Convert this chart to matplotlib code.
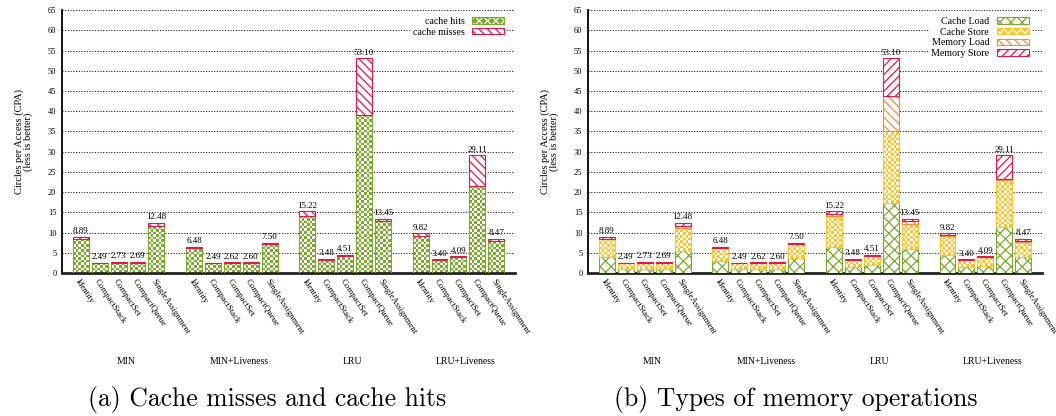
import numpy as np
import matplotlib
matplotlib.use("Agg")
import matplotlib.pyplot as plt
from matplotlib.colors import ListedColormap
from matplotlib.patches import Patch
from matplotlib.legend_handler import HandlerTuple
from matplotlib.transforms import blended_transform_factory

plt.rcParams['font.family'] = 'Liberation Serif'
plt.rcParams['hatch.linewidth'] = 0.9

# ---- data ----
groups = ['MIN', 'MIN+Liveness', 'LRU', 'LRU+Liveness']
categories = ['Identity', 'CompactStack', 'CompactSet', 'CompactQueue', 'SingleAssignment']

totals = [8.89, 2.49, 2.73, 2.69, 12.48,
          6.48, 2.49, 2.62, 2.60, 7.50,
          15.22, 3.48, 4.51, 53.10, 13.45,
          9.82, 3.40, 4.09, 29.11, 8.47]

# (a) cache hits / misses
cache_hits = [8.50, 2.35, 2.40, 2.50, 11.60,
              6.20, 2.35, 2.45, 2.42, 7.10,
              14.15, 3.20, 4.20, 39.10, 12.75,
              9.05, 3.20, 3.85, 21.50, 8.00]
cache_misses = [0.39, 0.14, 0.33, 0.19, 0.88,
                0.28, 0.14, 0.17, 0.18, 0.40,
                1.07, 0.28, 0.31, 14.00, 0.70,
                0.77, 0.20, 0.24, 7.61, 0.47]

# (b) memory operation types
cache_load = [4.00, 1.10, 1.10, 1.10, 5.40,
              2.95, 1.10, 1.10, 1.10, 3.60,
              6.30, 1.50, 2.00, 17.40, 5.90,
              4.40, 1.60, 1.80, 11.30, 3.90]
cache_store = [4.40, 1.25, 1.30, 1.40, 5.80,
               3.25, 1.25, 1.35, 1.32, 3.50,
               7.80, 1.70, 2.20, 17.60, 6.20,
               4.70, 1.60, 2.05, 11.70, 3.80]
memory_load = [0.10, 0.00, 0.00, 0.00, 0.40,
               0.00, 0.00, 0.00, 0.00, 0.00,
               0.40, 0.00, 0.00, 8.80, 0.65,
               0.25, 0.00, 0.00, 0.20, 0.30]
memory_store = [0.39, 0.14, 0.33, 0.19, 0.88,
                0.28, 0.14, 0.17, 0.18, 0.40,
                0.72, 0.28, 0.31, 9.30, 0.70,
                0.47, 0.20, 0.24, 5.91, 0.47]

GREEN = '#7aab2c'
RED = '#e2174c'
YELLOW = '#fdc42c'
ORANGE = '#f28d3c'

BAR_W = 0.84
CELL = (0.14, 0.64)

# bar x positions: 5 bars per group, one empty slot between groups
xpos = np.array([g * 6 + i + 1 for g in range(len(groups)) for i in range(len(categories))], dtype=float)


def checker_bars(ax, x, h, bottom, color):
    """Stacked bars filled with a checkerboard pattern (gnuplot style)."""
    bars = ax.bar(x, h, BAR_W, bottom=bottom, facecolor='none',
                  edgecolor=color, linewidth=0.8, zorder=3)
    cmap = ListedColormap(['white', color])
    for b in bars:
        x0, y0, w, hh = b.get_x(), b.get_y(), b.get_width(), b.get_height()
        if hh <= 0:
            b.set_visible(False)
            continue
        nx = int(np.ceil(w / CELL[0]))
        ny = int(np.ceil(hh / CELL[1]))
        pat = np.add.outer(np.arange(ny), np.arange(nx)) % 2
        im = ax.imshow(pat, cmap=cmap, vmin=0, vmax=1, origin='lower',
                       extent=(x0, x0 + nx * CELL[0], y0, y0 + ny * CELL[1]),
                       interpolation='nearest', aspect='auto', zorder=2)
        im.set_clip_path(b)
    return bars


def hatch_bars(ax, x, h, bottom, color, hatch):
    bars = ax.bar(x, h, BAR_W, bottom=bottom, facecolor='white',
                  edgecolor=color, hatch=hatch, linewidth=0.8, zorder=3)
    for b in bars:
        if b.get_height() <= 0:
            b.set_visible(False)
    return bars


def style_axes(ax):
    ax.set_xlim(0, 24)
    ax.set_ylim(0, 65)
    ax.set_yticks(np.arange(0, 66, 5))
    ax.tick_params(axis='y', length=0, pad=4, labelsize=6)
    ax.tick_params(axis='x', length=0, pad=3)
    ax.set_xticks(xpos)
    ax.set_xticklabels(categories * len(groups), rotation=-57, ha='left',
                       va='top', rotation_mode='anchor', fontsize=6.3)
    ax.set_axisbelow(True)
    ax.yaxis.grid(True, color='#111111', linestyle=(0, (1, 1.6)), linewidth=0.75)
    for s in ['top', 'right']:
        ax.spines[s].set_visible(False)
    ax.spines['left'].set_linewidth(1.3)
    ax.spines['bottom'].set_linewidth(2.0)
    ax.spines['bottom'].set_color('#222222')
    ax.set_ylabel('Circles per Access (CPA)\n(less is better)', fontsize=7.5,
                  linespacing=0.95)
    ax.yaxis.set_label_coords(-0.063, 0.5)
    trans = blended_transform_factory(ax.transData, ax.transAxes)
    for g, name in enumerate(groups):
        ax.text(g * 6 + 3.4, -0.335, name, transform=trans, ha='center',
                va='center', fontsize=7)
    for x, t in zip(xpos, totals):
        ax.text(x, t + 0.4, f'{t:.2f}', ha='center', va='bottom', fontsize=6.5,
                zorder=4)


fig = plt.figure(figsize=(10.56, 4.16), dpi=100)
axL = fig.add_axes([0.0587, 0.3438, 0.429, 0.632])
axR = fig.add_axes([0.5568, 0.3438, 0.430, 0.632])

legend_kw = dict(loc='upper right', markerfirst=False, fontsize=7.2,
                 handlelength=3.2, handleheight=0.6, handletextpad=0.8,
                 borderpad=0.1, fancybox=False, framealpha=1, edgecolor='white',
                 handler_map={tuple: HandlerTuple(ndivide=1, pad=0)})

# (a)
hits = np.array(cache_hits)
checker_bars(axL, xpos, hits, 0, GREEN)
hatch_bars(axL, xpos, cache_misses, hits, RED, '\\\\\\\\')
style_axes(axL)
h_hits = (Patch(facecolor=GREEN, edgecolor='white', hatch='xxxx', linewidth=0),
          Patch(fill=False, edgecolor=GREEN, linewidth=0.8))
h_miss = Patch(facecolor='white', edgecolor=RED, hatch='\\\\\\\\', linewidth=0.8)
axL.legend([h_hits, h_miss], ['cache hits', 'cache misses'],
           bbox_to_anchor=(0.99, 0.997), labelspacing=0.18, **legend_kw)

# (b)
b1 = np.array(cache_load)
b2 = b1 + np.array(cache_store)
b3 = b2 + np.array(memory_load)
hatch_bars(axR, xpos, cache_load, 0, GREEN, 'xxx')
checker_bars(axR, xpos, cache_store, b1, YELLOW)
hatch_bars(axR, xpos, memory_load, b2, ORANGE, '\\\\\\\\')
hatch_bars(axR, xpos, memory_store, b3, RED, '////')
style_axes(axR)
h_cl = Patch(facecolor='white', edgecolor=GREEN, hatch='xxx', linewidth=0.8)
h_cs = (Patch(facecolor=YELLOW, edgecolor='white', hatch='xxxx', linewidth=0),
        Patch(fill=False, edgecolor=YELLOW, linewidth=0.8))
h_ml = Patch(facecolor='white', edgecolor=ORANGE, hatch='\\\\\\\\', linewidth=0.8)
h_ms = Patch(facecolor='white', edgecolor=RED, hatch='////', linewidth=0.8)
axR.legend([h_cl, h_cs, h_ml, h_ms],
           ['Cache Load', 'Cache Store', 'Memory Load', 'Memory Store'],
           bbox_to_anchor=(0.985, 0.997), labelspacing=0.17, **legend_kw)

fig.text(0.253, 0.025, '(a) Cache misses and cache hits', family='cmr10',
         fontsize=18.5, ha='center', va='baseline')
fig.text(0.754, 0.025, '(b) Types of memory operations', family='cmr10',
         fontsize=18.5, ha='center', va='baseline')

fig.savefig('out.png', dpi=100)
